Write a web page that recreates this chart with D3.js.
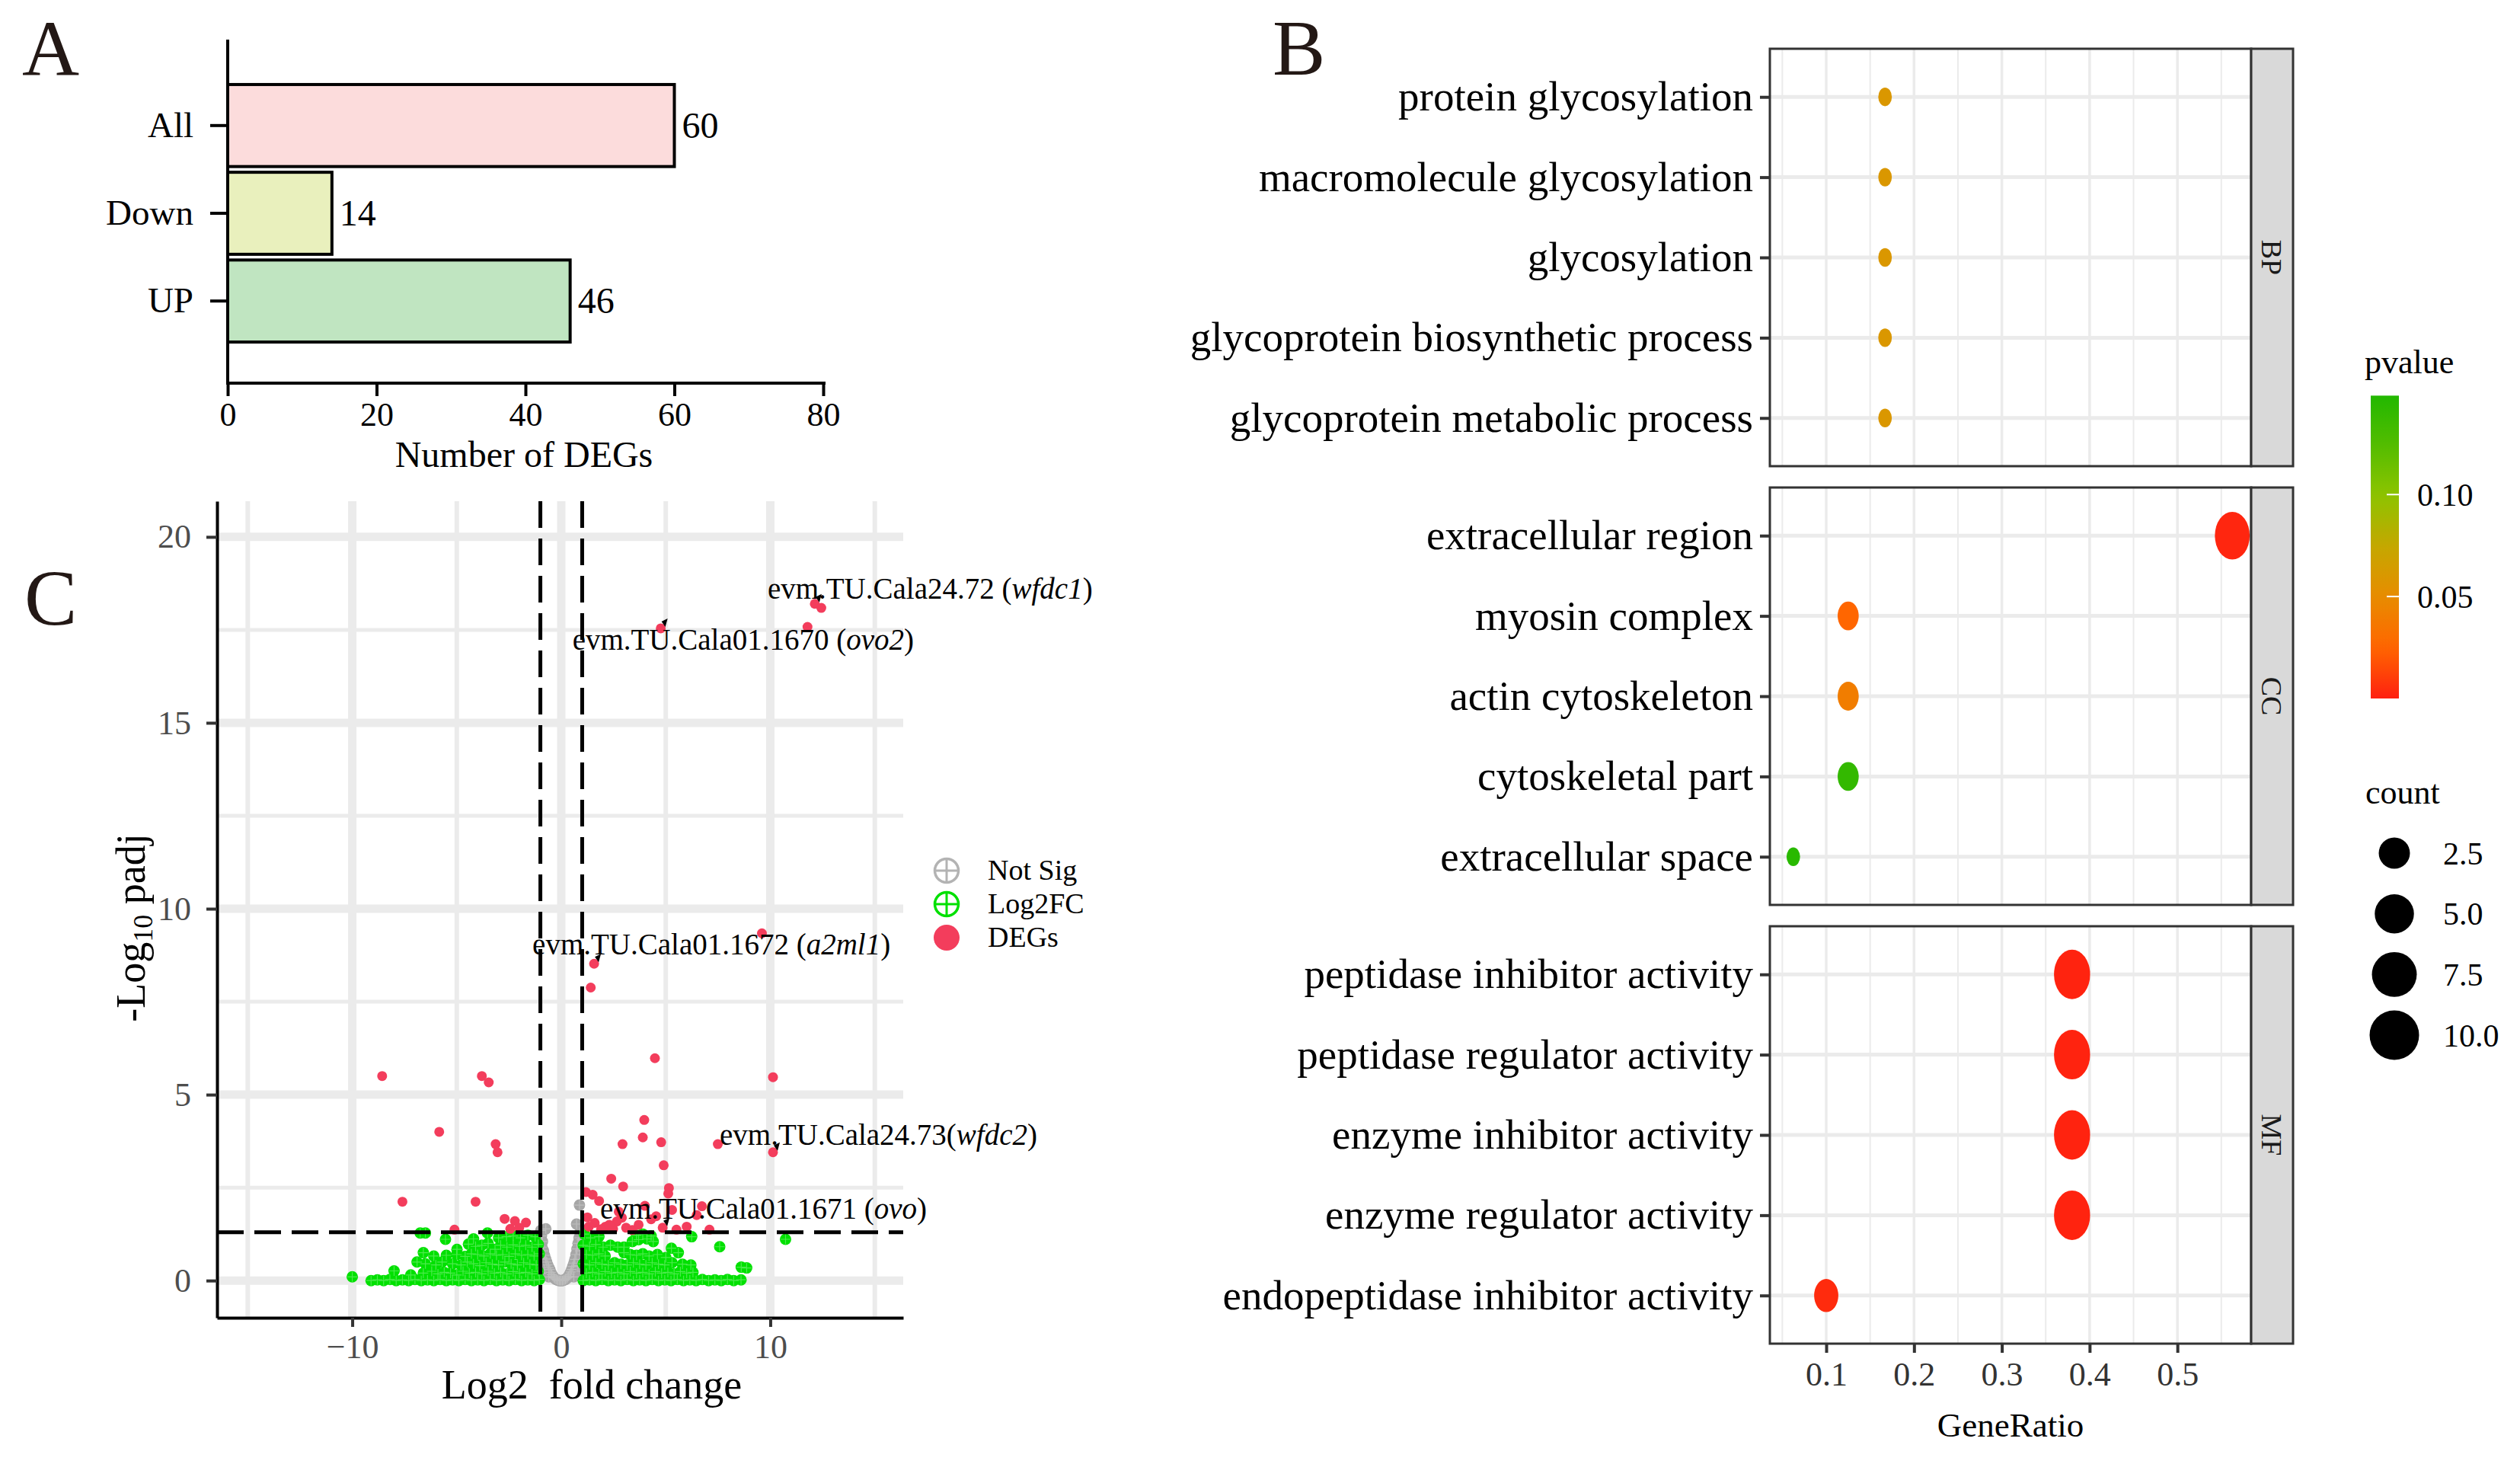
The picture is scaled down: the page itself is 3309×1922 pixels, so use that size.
<!DOCTYPE html>
<html>
<head>
<meta charset="utf-8">
<script src="https://cdn.jsdelivr.net/npm/d3@7"></script>
<style>
body { margin: 0; background: #fff; }
svg { display: block; font-family: "Liberation Serif", "Times New Roman", serif; }
</style>
</head>
<body>
<script>
// ---------- panel A : DEG counts ----------
var degCats = ["All", "Down", "UP"];
var degCounts = [60, 14, 46];
var degTicks = [0, 20, 40, 60, 80];

// ---------- panel B : GO enrichment ----------
var goOnts = ["BP", "CC", "MF"];
var goTerms = [
  "protein glycosylation", "macromolecule glycosylation", "glycosylation",
  "glycoprotein biosynthetic process", "glycoprotein metabolic process",
  "extracellular region", "myosin complex", "actin cytoskeleton",
  "cytoskeletal part", "extracellular space",
  "peptidase inhibitor activity", "peptidase regulator activity",
  "enzyme inhibitor activity", "enzyme regulator activity",
  "endopeptidase inhibitor activity"
];
var goOnt = ["BP","BP","BP","BP","BP","CC","CC","CC","CC","CC","MF","MF","MF","MF","MF"];
var goRatio = [0.167, 0.167, 0.167, 0.167, 0.167,
               0.5625, 0.125, 0.125, 0.125, 0.0625,
               0.38, 0.38, 0.38, 0.38, 0.1];
var goCount = [1, 1, 1, 1, 1, 9, 2, 2, 2, 1, 10, 10, 10, 10, 3];
var goP = [0.06, 0.06, 0.06, 0.06, 0.06,
           0.002, 0.025, 0.04, 0.14, 0.145,
           0.001, 0.001, 0.001, 0.001, 0.004];
var ratioTicks = [0.1, 0.2, 0.3, 0.4, 0.5];
var pTicks = [0.05, 0.10];
var countTicks = [2.5, 5.0, 7.5, 10.0];

// ---------- panel C : volcano ----------
var volXTicks = [-10, 0, 10];
var volYTicks = [0, 5, 10, 15, 20];
var fcCut = 1;
var padjCut = 1.301;
var volLegend = ["Not Sig", "Log2FC", "DEGs"];

// [log2FC, -log10 padj]
var notSig = [
  [-0.98,1.35],[-0.95,1.2],[-0.9,1.05],[-0.92,0.9],[-0.85,0.8],[-0.8,0.68],[-0.75,0.58],
  [-0.7,0.5],[-0.65,0.42],[-0.6,0.35],[-0.55,0.3],[-0.5,0.22],[-0.45,0.16],[-0.4,0.12],
  [-0.35,0.08],[-0.3,0.05],[-0.25,0.03],[-0.2,0.02],[-0.15,0.01],[-0.1,0.0],[-0.05,0.0],
  [0,0],[0.05,0.0],[0.1,0.01],[0.15,0.02],[0.2,0.03],[0.25,0.05],[0.3,0.08],[0.35,0.12],
  [0.4,0.17],[0.45,0.23],[0.5,0.3],[0.55,0.38],[0.6,0.47],[0.65,0.57],[0.7,0.7],[0.75,0.85],
  [0.8,1.0],[0.85,1.15],[0.9,1.3],[0.73,1.52],[0.87,2.03],[-0.74,1.39],[0.95,1.1],[0.9,0.8],
  [-0.9,0.6],[-0.6,0.1],[0.6,0.1],[-0.8,0.3],[0.8,0.4],[-0.95,0.2],[0.95,0.25]
];

var log2fc = [
  // left side
  [-10.0,0.1],[-9.1,0.0],[-8.8,0.02],[-8.5,0.0],[-8.2,0.03],[-7.9,0.0],[-7.6,0.02],[-7.3,0.0],
  [-7.0,0.03],[-6.7,0.0],[-6.4,0.02],[-6.1,0.0],[-5.8,0.03],[-5.5,0.0],[-5.2,0.02],[-4.9,0.0],
  [-4.6,0.03],[-4.3,0.0],[-4.0,0.02],[-3.7,0.0],[-3.4,0.03],[-3.1,0.0],[-2.8,0.02],[-2.5,0.0],
  [-2.2,0.03],[-1.9,0.0],[-1.6,0.02],[-1.3,0.0],[-1.05,0.03],
  [-8.0,0.26],[-7.2,0.15],[-6.6,0.2],[-6.2,0.25],[-5.9,0.18],[-5.6,0.22],[-5.3,0.2],[-5.0,0.15],
  [-4.7,0.25],[-4.4,0.2],[-4.1,0.22],[-3.8,0.18],[-3.5,0.25],[-3.2,0.2],[-2.9,0.22],[-2.6,0.18],
  [-2.3,0.24],[-2.0,0.2],[-1.7,0.22],[-1.4,0.18],[-1.1,0.25],
  [-6.9,0.5],[-6.5,0.45],[-6.0,0.42],[-5.7,0.5],[-5.2,0.45],[-4.8,0.42],[-4.5,0.5],[-4.2,0.45],
  [-3.9,0.4],[-3.6,0.48],[-3.3,0.44],[-3.0,0.42],[-2.7,0.5],[-2.4,0.45],[-2.1,0.42],[-1.8,0.48],
  [-1.5,0.44],[-1.2,0.42],
  [-6.6,0.75],[-6.1,0.66],[-5.5,0.68],[-5.0,0.7],[-4.6,0.65],[-4.3,0.72],[-4.0,0.7],[-3.7,0.66],
  [-3.4,0.72],[-3.1,0.68],[-2.8,0.7],[-2.5,0.65],[-2.2,0.72],[-1.9,0.68],[-1.6,0.7],[-1.3,0.66],
  [-1.05,0.72],
  [-4.99,0.84],[-4.44,0.98],[-4.1,0.92],[-3.8,0.95],[-3.17,0.84],[-2.9,0.95],[-2.6,0.9],
  [-2.3,0.96],[-2.0,0.92],[-1.7,0.95],[-1.4,0.9],[-1.1,0.97],[-3.5,1.0],
  [-6.75,1.28],[-6.5,1.28],[-5.54,1.11],[-3.53,1.28],[-2.62,1.18],[-2.3,1.2],[-1.95,1.15],
  [-1.6,1.22],[-1.25,1.18],[-3.0,1.15],[-4.2,1.12],
  // right side
  [1.05,0.0],[1.35,0.02],[1.65,0.0],[1.95,0.03],[2.25,0.0],[2.55,0.02],[2.85,0.0],[3.15,0.03],
  [3.45,0.0],[3.75,0.02],[4.05,0.0],[4.35,0.03],[4.65,0.0],[4.95,0.02],[5.25,0.0],[5.55,0.03],
  [5.85,0.0],[6.15,0.02],[6.45,0.0],[6.75,0.03],[7.05,0.0],[7.35,0.02],[7.65,0.0],[7.95,0.03],
  [8.25,0.0],[8.6,0.02],
  [1.2,0.2],[1.5,0.22],[1.8,0.18],[2.1,0.24],[2.4,0.2],[2.7,0.22],[3.0,0.18],[3.3,0.24],
  [3.6,0.2],[3.9,0.22],[4.2,0.18],[4.5,0.24],[4.8,0.2],[5.1,0.22],[5.4,0.18],[5.7,0.24],
  [6.0,0.2],[6.3,0.22],
  [1.05,0.45],[1.35,0.42],[1.65,0.48],[1.95,0.44],[2.25,0.42],[2.55,0.48],[2.85,0.44],[3.15,0.42],
  [3.45,0.48],[3.75,0.44],[4.05,0.42],[4.35,0.48],[4.65,0.44],[4.95,0.42],[5.3,0.48],[5.8,0.44],
  [6.2,0.42],
  [1.2,0.7],[1.5,0.68],[1.8,0.72],[2.1,0.66],[3.0,0.75],[3.3,0.7],[3.6,0.68],[3.9,0.72],
  [4.2,0.66],[4.6,0.7],[5.0,0.62],[5.6,0.75],
  [1.05,0.95],[1.35,0.92],[1.65,0.97],[2.0,0.9],[2.35,0.95],[2.7,0.9],[3.0,0.9],[3.4,1.05],
  [3.7,1.1],[4.1,1.12],[4.4,1.05],[5.27,0.87],[7.58,0.91],
  [1.1,1.25],[1.4,1.15],[1.8,1.18],[3.6,1.22],[3.9,1.25],[4.3,1.2],[6.24,1.18],[10.73,1.11],
  [8.61,0.36],[8.87,0.34]
];

var degs = [
  // down
  [-8.57,5.5],[-3.8,5.5],[-3.47,5.33],[-5.84,4.0],[-3.14,3.67],[-3.05,3.45],[-7.6,2.12],
  [-4.1,2.12],[-2.71,1.66],[-2.22,1.6],[-1.69,1.56],[-2.44,1.39],[-2.01,1.42],[-5.11,1.37],
  // up
  [3.97,4.32],[3.9,3.85],[2.93,3.67],[4.78,3.72],[7.49,3.67],[10.13,3.45],[4.9,3.1],[2.39,2.74],
  [2.96,2.53],[5.15,2.49],[5.12,2.34],[1.18,2.38],[1.5,2.31],[1.81,2.14],[4.0,2.01],[6.73,2.0],
  [6.48,1.76],[4.54,1.73],[2.9,1.69],[2.66,1.59],[1.32,1.45],[2.11,1.45],[2.48,1.39],[4.85,1.42],
  [5.51,1.37],[7.09,1.37],[9.6,9.34],[1.57,8.52],[1.41,7.88],[4.48,5.98],[10.13,5.47],
  [12.13,18.2],[12.44,18.09],[11.78,17.58],[4.76,17.54],
  [1.6,1.55],[1.9,1.38],[2.3,1.5],[3.1,1.42],[3.4,1.36],[3.7,1.5],[4.3,1.65],[5.3,1.9],
  [6.0,1.45],[2.75,1.85],[1.25,1.7]
];

var labelIds = ["evm.TU.Cala24.72", "evm.TU.Cala01.1670", "evm.TU.Cala01.1672", "evm.TU.Cala24.73", "evm.TU.Cala01.1671"];
var labelGenes = ["wfdc1", "ovo2", "a2ml1", "wfdc2", "ovo"];
var labelX = [12.13, 4.76, 1.57, 10.13, 4.85];
var labelY = [18.2, 17.54, 8.52, 3.45, 1.42];

// ---------- drawing ----------
var W = 3309, H = 1922;
var svg = d3.select("body").append("svg").attr("width", W).attr("height", H);
svg.append("rect").attr("width", W).attr("height", H).attr("fill", "#fff");

function styleAxis(g, w, fs, col) {
  g.attr("font-family", null).attr("font-size", null);
  g.selectAll(".domain").attr("stroke", "#000").attr("stroke-width", w);
  g.selectAll(".tick line").attr("stroke", "#000").attr("stroke-width", w);
  g.selectAll(".tick text").attr("font-size", fs).attr("fill", col);
}

// panel letters
svg.selectAll("text.letter").data([["A", 29, 99], ["B", 1671, 98], ["C", 32, 820]])
  .enter().append("text").attr("class", "letter")
  .attr("x", d => d[1]).attr("y", d => d[2])
  .attr("font-size", 104).attr("fill", "#231815").text(d => d[0]);

// ===== A =====
var ax = d3.scaleLinear().domain([0, 80]).range([299, 1081]);
var ay = d3.scaleBand().domain(degCats).range([107.5, 452.5]).paddingInner(0.065).paddingOuter(0.03);
var barFill = ["#fcdcdc", "#e9f0bd", "#c0e5c1"];

svg.selectAll("rect.bar").data(degCats).enter().append("rect").attr("class", "bar")
  .attr("x", ax(0)).attr("y", d => ay(d))
  .attr("width", (d, i) => ax(degCounts[i]) - ax(0))
  .attr("height", ay.bandwidth())
  .attr("fill", (d, i) => barFill[i]).attr("stroke", "#000").attr("stroke-width", 4);

svg.selectAll("text.barval").data(degCats).enter().append("text").attr("class", "barval")
  .attr("x", (d, i) => ax(degCounts[i]) + 10)
  .attr("y", d => ay(d) + ay.bandwidth() / 2)
  .attr("dy", "0.33em").attr("font-size", 48).text((d, i) => degCounts[i]);

var gAx = svg.append("g").attr("transform", "translate(0,503)")
  .call(d3.axisBottom(ax).tickValues(degTicks).tickSize(17).tickPadding(8).tickSizeOuter(0));
styleAxis(gAx, 4, 44, "#000");
gAx.select(".domain").attr("d", "M297,0H1084");

var gAy = svg.append("g").attr("transform", "translate(299,0)")
  .call(d3.axisLeft(ay).tickSize(23).tickPadding(22));
styleAxis(gAy, 4, 47, "#000");
gAy.select(".domain").remove();
svg.append("line").attr("x1", 299).attr("x2", 299).attr("y1", 52).attr("y2", 505)
  .attr("stroke", "#000").attr("stroke-width", 4);

svg.append("text").attr("x", 688).attr("y", 613).attr("text-anchor", "middle")
  .attr("font-size", 48).text("Number of DEGs");

// ===== C =====
var vx = d3.scaleLinear().domain([-16.47, 16.36]).range([285, 1186]);
var vy = d3.scaleLinear().domain([-1.0, 20.96]).range([1730, 658]);
var gC = svg.append("g");

var gridC = gC.append("g").attr("stroke", "#ebebeb");
gridC.selectAll("line.vminor").data([-15, -5, 5, 15]).enter().append("line")
  .attr("x1", d => vx(d)).attr("x2", d => vx(d)).attr("y1", 658).attr("y2", 1730).attr("stroke-width", 6);
gridC.selectAll("line.hminor").data([2.5, 7.5, 12.5, 17.5]).enter().append("line")
  .attr("x1", 285).attr("x2", 1186).attr("y1", d => vy(d)).attr("y2", d => vy(d)).attr("stroke-width", 5);
gridC.selectAll("line.vmajor").data(volXTicks).enter().append("line")
  .attr("x1", d => vx(d)).attr("x2", d => vx(d)).attr("y1", 658).attr("y2", 1730).attr("stroke-width", 11);
gridC.selectAll("line.hmajor").data(volYTicks).enter().append("line")
  .attr("x1", 285).attr("x2", 1186).attr("y1", d => vy(d)).attr("y2", d => vy(d)).attr("stroke-width", 11);

function crossPath(cx, cy, r) {
  return "M" + (cx - r) + "," + cy + "H" + (cx + r) + "M" + cx + "," + (cy - r) + "V" + (cy + r);
}

// Not sig (grey) first, green drawn on top as in the reference
var gN = gC.append("g");
gN.selectAll("circle").data(notSig).enter().append("circle")
  .attr("cx", d => vx(d[0])).attr("cy", d => vy(d[1])).attr("r", 7.5)
  .attr("fill", "#a6a6a6");
gN.selectAll("path").data(notSig).enter().append("path")
  .attr("d", d => crossPath(vx(d[0]), vy(d[1]), 6.5))
  .attr("stroke", "#bdbdbd").attr("stroke-width", 1.2);

// Log2FC (green, circle-plus)
var gG = gC.append("g");
gG.selectAll("circle").data(log2fc).enter().append("circle")
  .attr("cx", d => vx(d[0])).attr("cy", d => vy(d[1])).attr("r", 7.5)
  .attr("fill", "#00e000");
gG.selectAll("path").data(log2fc).enter().append("path")
  .attr("d", d => crossPath(vx(d[0]), vy(d[1]), 6.5))
  .attr("stroke", "#4cea4c").attr("stroke-width", 1.2);

// DEGs (red)
gC.append("g").selectAll("circle").data(degs).enter().append("circle")
  .attr("cx", d => vx(d[0])).attr("cy", d => vy(d[1])).attr("r", 6.5)
  .attr("fill", "#f33d5c");

// threshold lines
var dash = gC.append("g").attr("stroke", "#000").attr("stroke-width", 5).attr("stroke-dasharray", "35,14");
dash.selectAll("line.v").data([-fcCut, fcCut]).enter().append("line")
  .attr("x1", d => vx(d)).attr("x2", d => vx(d)).attr("y1", 658).attr("y2", 1730);
dash.append("line").attr("x1", 285).attr("x2", 1186).attr("y1", vy(padjCut)).attr("y2", vy(padjCut));

// labels
var labOff = [[-62, -7], [-116, 28], [-81, -12], [-70, -10], [-82, -12]];
var labSpace = [" (", " (", " (", "(", " ("];
labelIds.forEach(function (id, i) {
  var px = vx(labelX[i]), py = vy(labelY[i]);
  gC.append("path")
    .attr("d", "M" + (px + 9) + "," + (py - 13) + "L" + (px + 1) + "," + (py - 9) + "L" + (px + 6) + "," + (py - 2) + "Z")
    .attr("fill", "#000");
  var t = gC.append("text").attr("x", px + labOff[i][0]).attr("y", py + labOff[i][1])
    .attr("font-size", 39).attr("fill", "#000");
  t.append("tspan").text(id + labSpace[i]);
  t.append("tspan").attr("font-style", "italic").text(labelGenes[i]);
  t.append("tspan").text(")");
});

// axes
var gVy = svg.append("g").attr("transform", "translate(285,0)")
  .call(d3.axisLeft(vy).tickValues(volYTicks).tickSize(14).tickPadding(20).tickSizeOuter(0));
styleAxis(gVy, 4, 44, "#4d4d4d");
gVy.selectAll(".tick line").attr("stroke", "#333");
var gVx = svg.append("g").attr("transform", "translate(0,1730)")
  .call(d3.axisBottom(vx).tickValues(volXTicks).tickSize(12).tickPadding(10).tickSizeOuter(0));
styleAxis(gVx, 4, 44, "#4d4d4d");
gVx.selectAll(".tick line").attr("stroke", "#333");

svg.append("text").attr("x", 777).attr("y", 1836).attr("text-anchor", "middle")
  .attr("font-size", 54).text("Log2\u2002fold change");
var yt = svg.append("text").attr("transform", "translate(190,1218) rotate(-90)")
  .attr("text-anchor", "middle").attr("font-size", 54);
yt.append("tspan").text("-Log");
yt.append("tspan").attr("font-size", 36).attr("dy", 10).text("10");
yt.append("tspan").attr("dy", -10).text(" padj");

// volcano legend
var legC = svg.append("g");
var legY = [1143, 1187, 1231];
[["#b3b3b3", false], ["#00e000", false], ["#f33d5c", true]].forEach(function (s, i) {
  if (s[1]) {
    legC.append("circle").attr("cx", 1243).attr("cy", legY[i]).attr("r", 17).attr("fill", s[0]);
  } else {
    legC.append("circle").attr("cx", 1243).attr("cy", legY[i]).attr("r", 15.5)
      .attr("fill", "none").attr("stroke", s[0]).attr("stroke-width", 3.5);
    legC.append("path").attr("d", crossPath(1243, legY[i], 15.5))
      .attr("stroke", s[0]).attr("stroke-width", 3);
  }
  legC.append("text").attr("x", 1297).attr("y", legY[i]).attr("dy", "0.32em")
    .attr("font-size", 38).text(volLegend[i]);
});

// ===== B =====
var gx = d3.scaleLinear().domain([0.0358, 0.584]).range([2324, 2956]);
var pColor = d3.scaleLinear()
  .domain([0, 0.025, 0.05, 0.075, 0.10, 0.125, 0.1485])
  .range(["#ff2010", "#ff6600", "#e88c00", "#c4a800", "#8cc400", "#52bc00", "#22b800"]);
var rScale = d3.scaleSqrt().domain([0, 9]).range([12.2, 32.5]);
var panelH = 548, stripW = 55;

goOnts.forEach(function (ont, k) {
  var top = 64 + k * 576;
  var idx = d3.range(goTerms.length).filter(i => goOnt[i] === ont);
  var gy = d3.scalePoint().domain(idx.map(i => goTerms[i])).range([top, top + panelH]).padding(0.6);
  var g = svg.append("g");

  g.selectAll("line.vg").data(d3.range(0.05, 0.56, 0.05)).enter().append("line")
    .attr("x1", d => gx(d)).attr("x2", d => gx(d)).attr("y1", top).attr("y2", top + panelH)
    .attr("stroke", "#ebebeb").attr("stroke-width", (d, i) => i % 2 ? 3.5 : 2);
  g.selectAll("line.hg").data(gy.domain()).enter().append("line")
    .attr("x1", gx.range()[0]).attr("x2", gx.range()[1]).attr("y1", d => gy(d)).attr("y2", d => gy(d))
    .attr("stroke", "#ebebeb").attr("stroke-width", 5);

  g.selectAll("ellipse").data(idx).enter().append("ellipse")
    .attr("cx", i => gx(goRatio[i])).attr("cy", i => gy(goTerms[i]))
    .attr("ry", i => rScale(goCount[i] - 1)).attr("rx", i => 0.73 * rScale(goCount[i] - 1))
    .attr("fill", i => pColor(goP[i]));

  g.append("rect").attr("x", 2324).attr("y", top).attr("width", 2956 - 2324).attr("height", panelH)
    .attr("fill", "none").attr("stroke", "#333").attr("stroke-width", 3);
  g.append("rect").attr("x", 2956).attr("y", top).attr("width", stripW).attr("height", panelH)
    .attr("fill", "#d9d9d9").attr("stroke", "#333").attr("stroke-width", 3);
  g.append("text").attr("transform", "translate(" + (2956 + stripW / 2) + "," + (top + panelH / 2) + ") rotate(90)")
    .attr("text-anchor", "middle").attr("dy", "0.35em").attr("font-size", 38).attr("fill", "#1a1a1a").text(ont);

  var gyAx = g.append("g").attr("transform", "translate(2324,0)")
    .call(d3.axisLeft(gy).tickSize(13).tickPadding(9));
  styleAxis(gyAx, 4, 55, "#000");
  gyAx.select(".domain").remove();
  gyAx.selectAll(".tick line").attr("stroke", "#333");

  if (k === 2) {
    var gxAx = g.append("g").attr("transform", "translate(0," + (top + panelH) + ")")
      .call(d3.axisBottom(gx).tickValues(ratioTicks).tickFormat(d3.format(".1f")).tickSize(12).tickPadding(12));
    styleAxis(gxAx, 4, 44, "#333");
    gxAx.select(".domain").remove();
    gxAx.selectAll(".tick line").attr("stroke", "#333");
  }
});

svg.append("text").attr("x", 2640).attr("y", 1886).attr("text-anchor", "middle")
  .attr("font-size", 45).text("GeneRatio");

// colour bar legend
var pLeg = d3.scaleLinear().domain([0, 0.1485]).range([917, 519.4]);
var grad = svg.append("defs").append("linearGradient").attr("id", "pgrad")
  .attr("x1", 0).attr("y1", 1).attr("x2", 0).attr("y2", 0);
grad.selectAll("stop").data(d3.range(0, 1.0001, 0.05)).enter().append("stop")
  .attr("offset", d => d).attr("stop-color", d => pColor(d * 0.1485));
svg.append("text").attr("x", 3105).attr("y", 490).attr("font-size", 44).text("pvalue");
svg.append("rect").attr("x", 3113).attr("y", pLeg(0.1485)).attr("width", 37)
  .attr("height", pLeg(0) - pLeg(0.1485)).attr("fill", "url(#pgrad)");
svg.selectAll("line.ptick").data(pTicks).enter().append("line")
  .attr("x1", 3134).attr("x2", 3150).attr("y1", d => pLeg(d)).attr("y2", d => pLeg(d))
  .attr("stroke", "#fff").attr("stroke-width", 2);
svg.selectAll("text.ptick").data(pTicks).enter().append("text")
  .attr("x", 3174).attr("y", d => pLeg(d)).attr("dy", "0.35em").attr("font-size", 42)
  .text(d => d3.format(".2f")(d));

// size legend
svg.append("text").attr("x", 3106).attr("y", 1055).attr("font-size", 44).text("count");
var cLegY = d3.scalePoint().domain(countTicks).range([1120, 1359]);
svg.selectAll("circle.cleg").data(countTicks).enter().append("circle")
  .attr("cx", 3144).attr("cy", d => cLegY(d)).attr("r", d => rScale(d - 1)).attr("fill", "#000");
svg.selectAll("text.cleg").data(countTicks).enter().append("text")
  .attr("x", 3208).attr("y", d => cLegY(d)).attr("dy", "0.35em").attr("font-size", 42)
  .text(d => d3.format(".1f")(d));
</script>
</body>
</html>
